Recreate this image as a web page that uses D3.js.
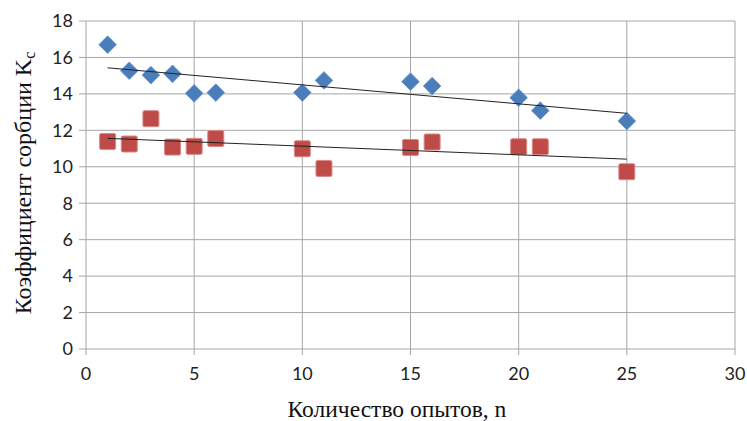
<!DOCTYPE html>
<html>
<head>
<meta charset="utf-8">
<script src="https://cdn.jsdelivr.net/npm/d3@7"></script>
<style>
  body { margin: 0; background: #fff; }
  .serif { font-family: "Liberation Serif", "Times New Roman", serif; }
</style>
</head>
<body>
<div id="chart"></div>
<script>
const blueX = [1, 2, 3, 4, 5, 6, 10, 11, 15, 16, 20, 21, 25];
const blueY = [16.7, 15.27, 15.03, 15.1, 14.03, 14.07, 14.07, 14.74, 14.67, 14.43, 13.79, 13.08, 12.51];
const redX = [1, 2, 3, 4, 5, 6, 10, 11, 15, 16, 20, 21, 25];
const redY = [11.39, 11.25, 12.64, 11.08, 11.12, 11.55, 10.99, 9.91, 11.06, 11.36, 11.1, 11.1, 9.73];
const xTicks = [0, 5, 10, 15, 20, 25, 30];
const yTicks = [0, 2, 4, 6, 8, 10, 12, 14, 16, 18];

const width = 747;
const height = 421;
const marginLeft = 86;
const marginRight = 12;
const marginTop = 21;
const marginBottom = 72;

const xScale = d3.scaleLinear()
  .domain([0, 30])
  .range([marginLeft, width - marginRight]);

const yScale = d3.scaleLinear()
  .domain([0, 18])
  .range([height - marginBottom, marginTop]);

// least squares fit, used for the trend lines
function fit(xs, ys) {
  const mx = d3.mean(xs), my = d3.mean(ys);
  let sxy = 0, sxx = 0;
  xs.forEach((x, i) => { sxy += (x - mx) * (ys[i] - my); sxx += (x - mx) * (x - mx); });
  const b = sxy / sxx;
  const a = my - b * mx;
  const x0 = d3.min(xs), x1 = d3.max(xs);
  return [{ x: x0, y: a + b * x0 }, { x: x1, y: a + b * x1 }];
}

const svg = d3.create("svg").attr("width", width).attr("height", height);

// grid
svg.append("g")
  .selectAll("line")
  .data(yTicks)
  .join("line")
  .attr("x1", xScale(0) - 7)
  .attr("x2", xScale(30))
  .attr("y1", (d) => yScale(d))
  .attr("y2", (d) => yScale(d))
  .attr("stroke", "#a6a6a6")
  .attr("stroke-width", 1);

svg.append("g")
  .selectAll("line")
  .data(xTicks)
  .join("line")
  .attr("x1", (d) => xScale(d))
  .attr("x2", (d) => xScale(d))
  .attr("y1", yScale(18))
  .attr("y2", yScale(0) + 6)
  .attr("stroke", "#a6a6a6")
  .attr("stroke-width", 1);

// tick labels
svg.append("g")
  .selectAll("text")
  .data(yTicks)
  .join("text")
  .attr("x", xScale(0) - 13)
  .attr("y", (d) => yScale(d))
  .attr("dy", "0.35em")
  .attr("text-anchor", "end")
  .attr("font-family", "Lato, sans-serif")
  .attr("font-size", 18)
  .attr("fill", "#222")
  .text((d) => d);

svg.append("g")
  .selectAll("text")
  .data(xTicks)
  .join("text")
  .attr("x", (d) => xScale(d))
  .attr("y", yScale(0) + 31)
  .attr("text-anchor", "middle")
  .attr("font-family", "Lato, sans-serif")
  .attr("font-size", 18)
  .attr("fill", "#222")
  .text((d) => d);

// axis titles
svg.append("text")
  .attr("class", "serif")
  .attr("x", 397)
  .attr("y", 417)
  .attr("text-anchor", "middle")
  .attr("font-size", 23.5)
  .attr("fill", "#111")
  .text("Количество опытов, n");

const yTitle = svg.append("text")
  .attr("class", "serif")
  .attr("transform", "translate(31,183) rotate(-90)")
  .attr("text-anchor", "middle")
  .attr("font-size", 24)
  .attr("fill", "#111");
yTitle.append("tspan").text("Коэффициент сорбции K");
yTitle.append("tspan").attr("font-size", 16).attr("dy", 4).text("c");

// markers
const side = 12.5;
svg.append("g")
  .selectAll("rect")
  .data(blueX.map((x, i) => ({ x, y: blueY[i] })))
  .join("rect")
  .attr("x", -side / 2)
  .attr("y", -side / 2)
  .attr("width", side)
  .attr("height", side)
  .attr("transform", (d) => `translate(${xScale(d.x)},${yScale(d.y)}) rotate(45)`)
  .attr("fill", "#4a7ebb")
  .attr("stroke", "#6c98cf")
  .attr("stroke-width", 0.8);

const sq = 16;
svg.append("g")
  .selectAll("rect")
  .data(redX.map((x, i) => ({ x, y: redY[i] })))
  .join("rect")
  .attr("x", (d) => xScale(d.x) - sq / 2)
  .attr("y", (d) => yScale(d.y) - sq / 2)
  .attr("width", sq)
  .attr("height", sq)
  .attr("rx", 1.5)
  .attr("fill", "#be4b48")
  .attr("stroke", "#d98a88")
  .attr("stroke-width", 1);

// trend lines
const line = d3.line()
  .x((p) => xScale(p.x))
  .y((p) => yScale(p.y));

[fit(blueX, blueY), fit(redX, redY)].forEach((pts) => {
  svg.append("path")
    .attr("fill", "none")
    .attr("stroke", "#222")
    .attr("stroke-width", 1)
    .attr("d", line(pts));
});

document.getElementById("chart").append(svg.node());
</script>
</body>
</html>
